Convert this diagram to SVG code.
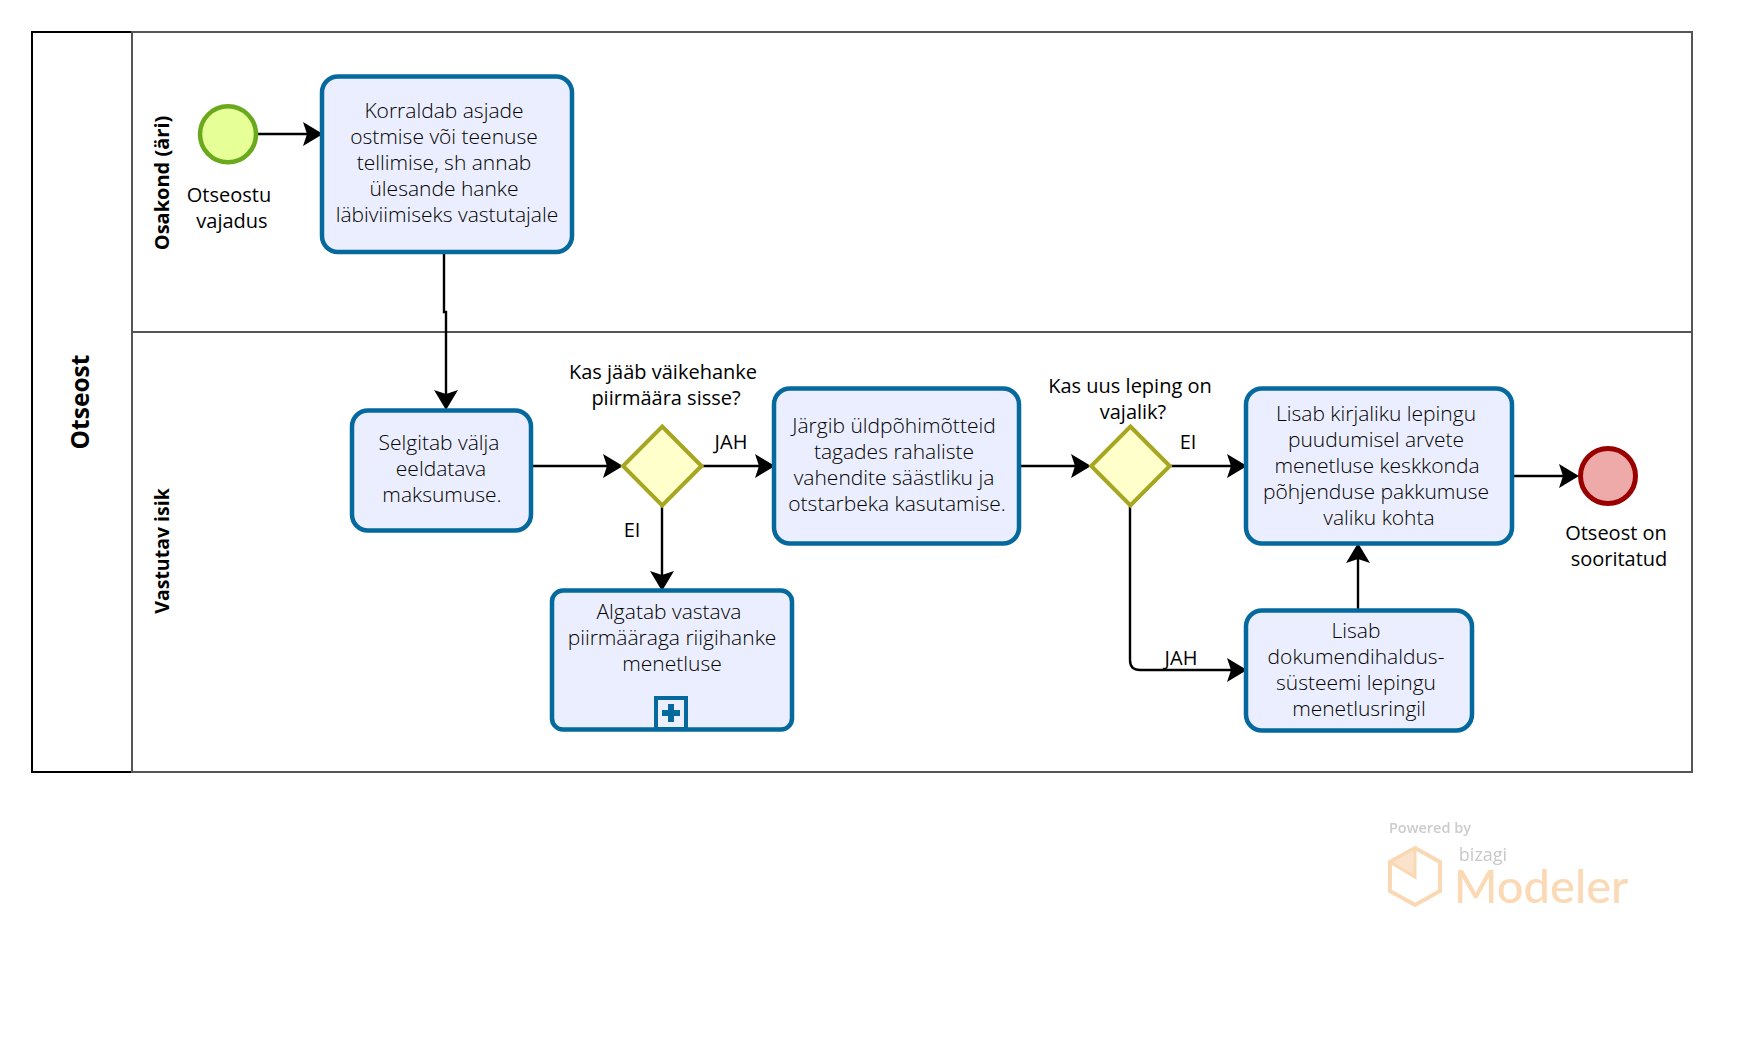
<svg xmlns="http://www.w3.org/2000/svg" width="1738" height="1064" viewBox="0 0 1738 1064">
<style>
text{font-family:"Open Sans","Noto Sans","Liberation Sans",sans-serif;font-size:21px;font-weight:300;fill:#000;text-anchor:middle}
.l{font-weight:400;font-size:20px}
.lane{font-weight:700;font-size:20px;fill:#000}
.task{fill:#ebeefe;stroke:#05699d;stroke-width:4.5}
.gw{fill:#ffffcc;stroke:#a6a621;stroke-width:4}
.line{fill:none;stroke:#000;stroke-width:2.4}
.lanebox{fill:none;stroke:#555;stroke-width:2}
</style>
<defs>
<marker id="arrow" markerUnits="userSpaceOnUse" markerWidth="26" markerHeight="26" refX="17" refY="12" orient="auto" overflow="visible">
<path d="M0,0 L20,12 L0,24 L4,12 Z" fill="#000"/>
</marker>
<filter id="soft" x="-5%" y="-5%" width="110%" height="110%"><feGaussianBlur stdDeviation="0.6"/></filter>
</defs>
<rect width="1738" height="1064" fill="#fff"/>
<g id="pool">
<path d="M132,32 H32 V772 H132" fill="none" stroke="#000" stroke-width="2"/>
<rect class="lanebox" x="132" y="32" width="1560" height="300"/>
<rect class="lanebox" x="132" y="332" width="1560" height="440"/>
<text class="lane" style="font-size:24.5px" transform="translate(89 402) rotate(-90)">Otseost</text>
<text class="lane" transform="translate(169 183) rotate(-90)">Osakond (äri)</text>
<text class="lane" style="font-size:19.5px" transform="translate(169 551) rotate(-90)">Vastutav isik</text>
</g>
<g id="connectors">
<path class="line" marker-end="url(#arrow)" d="M258,134 H320"/>
<path class="line" marker-end="url(#arrow)" d="M444,253 V312 H446 V407"/>
<path class="line" marker-end="url(#arrow)" d="M533,466 H620"/>
<path class="line" marker-end="url(#arrow)" d="M702,466 H772"/>
<path class="line" marker-end="url(#arrow)" d="M662,506 V588"/>
<path class="line" marker-end="url(#arrow)" d="M1021,466 H1088"/>
<path class="line" marker-end="url(#arrow)" d="M1170,466 H1244"/>
<path class="line" marker-end="url(#arrow)" d="M1130,506 V660 Q1130,670 1140,670 H1244"/>
<path class="line" marker-end="url(#arrow)" d="M1358,609 V546"/>
<path class="line" marker-end="url(#arrow)" d="M1513,476 H1576"/>
<text x="731" y="449" class="l">JAH</text>
<text x="632" y="537" class="l">EI</text>
<text x="1188" y="449" class="l">EI</text>
<text x="1181" y="665" class="l">JAH</text>
</g>
<g id="start">
<circle cx="228" cy="134.3" r="28" fill="#e6ff97" stroke="#6aa91e" stroke-width="4.5"/>
<text x="229" y="202" class="l">Otseostu</text>
<text x="232" y="228" class="l">vajadus</text>
</g>
<g id="task1">
<rect class="task" x="322" y="76.5" width="250" height="175.5" rx="16"/>
<text x="444" y="118">Korraldab asjade</text>
<text x="444" y="144">ostmise või teenuse</text>
<text x="444" y="170">tellimise, sh annab</text>
<text x="444" y="196">ülesande hanke</text>
<text x="447" y="222">läbiviimiseks vastutajale</text>
</g>
<g id="task2">
<rect class="task" x="352" y="410.5" width="179" height="120" rx="16"/>
<text x="439" y="450">Selgitab välja</text>
<text x="441" y="476">eeldatava</text>
<text x="442" y="502">maksumuse.</text>
</g>
<g id="gateway1">
<polygon class="gw" points="662.2,426.5 701.5,466 662.2,505.5 623,466"/>
<text x="663" y="379" class="l">Kas jääb väikehanke</text>
<text x="666" y="405" class="l">piirmäära sisse?</text>
</g>
<g id="subprocess">
<rect class="task" x="552" y="590.5" width="240" height="139" rx="11"/>
<text x="669" y="619">Algatab vastava</text>
<text x="672" y="645">piirmääraga riigihanke</text>
<text x="672" y="671">menetluse</text>
<rect x="656" y="698" width="30" height="31" fill="#ebeefe" stroke="#05699d" stroke-width="4"/>
<path d="M671,704 V722 M662,713 H680" stroke="#05699d" stroke-width="6" fill="none"/>
</g>
<g id="task3">
<rect class="task" x="774" y="388.5" width="245" height="155" rx="16"/>
<text x="894" y="433">Järgib üldpõhimõtteid</text>
<text x="894" y="459">tagades rahaliste</text>
<text x="894" y="485">vahendite säästliku ja</text>
<text x="897" y="511">otstarbeka kasutamise.</text>
</g>
<g id="gateway2">
<polygon class="gw" points="1130.4,426.5 1169.7,466 1130.4,505.5 1091.2,466"/>
<text x="1130" y="393" class="l">Kas uus leping on</text>
<text x="1133" y="419" class="l">vajalik?</text>
</g>
<g id="task4">
<rect class="task" x="1246" y="388.5" width="266" height="155" rx="16"/>
<text x="1376" y="421">Lisab kirjaliku lepingu</text>
<text x="1376" y="447">puudumisel arvete</text>
<text x="1377" y="473">menetluse keskkonda</text>
<text x="1376" y="499">põhjenduse pakkumuse</text>
<text x="1379" y="525">valiku kohta</text>
</g>
<g id="task5">
<rect class="task" x="1246" y="610.5" width="226" height="120" rx="16"/>
<text x="1356" y="638">Lisab</text>
<text x="1356" y="664">dokumendihaldus-</text>
<text x="1356" y="690">süsteemi lepingu</text>
<text x="1359" y="716">menetlusringil</text>
</g>
<g id="end">
<circle cx="1608" cy="476" r="27.5" fill="#eea9a9" stroke="#990000" stroke-width="5"/>
<text x="1616" y="540" class="l">Otseost on</text>
<text x="1619" y="566" class="l">sooritatud</text>
</g>
<g id="logo" filter="url(#soft)">
<text x="1430" y="833" style="font-size:14.5px;font-weight:600;fill:#ccc">Powered by</text>
<polygon points="1415,848 1440,862 1440,891 1415,905 1390,891 1390,862" fill="none" stroke="#fbd8b4" stroke-width="4"/>
<path d="M1415,848 V877 L1390,862 Z" fill="#fbe3cb" stroke="#fbd8b4" stroke-width="3"/>
<text x="1483" y="861" style="font-size:18px;font-weight:400;fill:#c8c8c8">bizagi</text>
<text x="1541" y="903" style="font-family:Lato,'Open Sans',sans-serif;font-size:47px;font-weight:500;fill:#fbd9b5">Modeler</text>
</g>
</svg>
